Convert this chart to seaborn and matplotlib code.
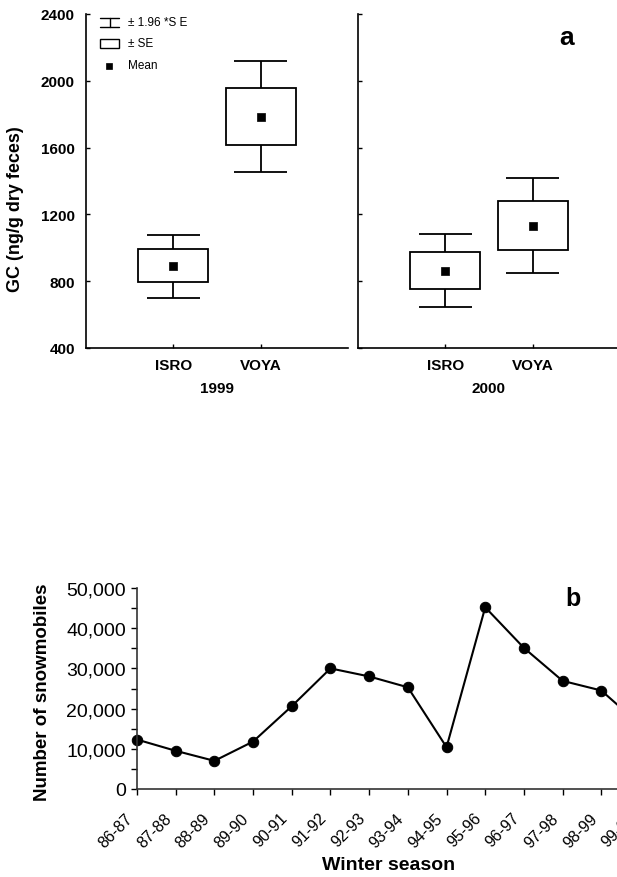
import numpy as np
import pandas as pd
import matplotlib
matplotlib.use("Agg")
import matplotlib.pyplot as plt
import seaborn as sns
from matplotlib.patches import Rectangle
from matplotlib.lines import Line2D
from matplotlib.ticker import MultipleLocator, FuncFormatter
from matplotlib.transforms import ScaledTranslation

# ---------------- data ----------------
years = ["1999", "2000"]
sites = ["ISRO", "VOYA"]
gc_mean_1999 = [889, 1784]
gc_mean_2000 = [861, 1130]
gc_se_low_1999 = [795, 1616]
gc_se_high_1999 = [990, 1957]
gc_se_low_2000 = [753, 988]
gc_se_high_2000 = [976, 1283]
gc_ci_low_1999 = [699, 1455]
gc_ci_high_1999 = [1078, 2121]
gc_ci_low_2000 = [647, 851]
gc_ci_high_2000 = [1084, 1419]
gc_yticks = [400, 800, 1200, 1600, 2000, 2400]

seasons = ["86-87", "87-88", "88-89", "89-90", "90-91", "91-92", "92-93",
           "93-94", "94-95", "95-96", "96-97", "97-98", "98-99", "99-00"]
snowmobiles = [12300, 9500, 7000, 11800, 20600, 30000, 28000,
               25300, 10400, 45200, 35100, 26900, 24500, 16000]

# ---------------- style ----------------
sns.set_theme(style="ticks")
plt.rcParams['font.family'] = ['Liberation Sans', 'DejaVu Sans']
plt.rcParams['axes.linewidth'] = 1.2
for k in ["text.color", "axes.labelcolor", "xtick.color", "ytick.color", "axes.edgecolor"]:
    plt.rcParams[k] = "black"

W, H = 617, 878
fig = plt.figure(figsize=(W / 100, H / 100), dpi=100)
fig.patch.set_facecolor("white")

def ax_rect(x0, y0, x1, y1):
    return [x0 / W, 1 - y1 / H, (x1 - x0) / W, (y1 - y0) / H]

ax1 = fig.add_axes(ax_rect(86, 15, 348, 349))
ax2 = fig.add_axes(ax_rect(358, 15, 620, 349))

panels = [
    (ax1, "1999", gc_mean_1999, gc_se_low_1999, gc_se_high_1999, gc_ci_low_1999, gc_ci_high_1999),
    (ax2, "2000", gc_mean_2000, gc_se_low_2000, gc_se_high_2000, gc_ci_low_2000, gc_ci_high_2000),
]
pos = np.arange(len(sites))
for ax, yr, mean, sel, seh, cil, cih in panels:
    ax.set_facecolor("white")
    sel = np.array(sel); seh = np.array(seh)
    ax.bar(pos, seh - sel, bottom=sel, width=0.8, facecolor="white",
           edgecolor="black", linewidth=1.3, zorder=2)
    ax.vlines(pos, seh, cih, color="black", linewidth=1.3, zorder=1)
    ax.vlines(pos, cil, sel, color="black", linewidth=1.3, zorder=1)
    ax.hlines(cih, pos - 0.3, pos + 0.3, color="black", linewidth=1.3)
    ax.hlines(cil, pos - 0.3, pos + 0.3, color="black", linewidth=1.3)
    df = pd.DataFrame({"pos": pos, "mean": mean})
    sns.scatterplot(data=df, x="pos", y="mean", marker="s", s=38,
                    color="black", edgecolor="black", ax=ax, zorder=3)
    ax.set_xlim(-1, 2)
    ax.set_ylim(400, 2400)
    ax.set_xticks(pos)
    ax.set_xticklabels(sites, fontsize=11, fontweight="bold")
    ax.set_yticks(gc_yticks)
    ax.set_xlabel(yr, fontsize=11, fontweight="bold", labelpad=7)
    ax.set_ylabel("")
    ax.tick_params(axis="x", direction="in", length=3, width=1, pad=7)
    ax.tick_params(axis="y", direction="in", length=3, width=1, pad=8)
    for s in ["top", "right"]:
        ax.spines[s].set_visible(False)

ax1.set_yticklabels([str(v) for v in gc_yticks], fontsize=11, fontweight="bold")
ax2.set_yticklabels([])

fig.text(16 / W, 1 - 209 / H, "GC (ng/g dry feces)", rotation=90,
         ha="center", va="center", fontsize=13, fontweight="bold")
fig.text(567 / W, 1 - 38 / H, "a", ha="center", va="center",
         fontsize=19, fontweight="bold")

# legend (drawn in left panel axes fraction)
def fx(px):
    return (px - 86) / 262
def fy(py):
    return (349 - py) / 334
tr = ax1.transAxes
lw = 1.0
ax1.add_line(Line2D([fx(100), fx(119)], [fy(18.5), fy(18.5)], transform=tr, color="black", lw=lw))
ax1.add_line(Line2D([fx(100), fx(119)], [fy(27.5), fy(27.5)], transform=tr, color="black", lw=lw))
ax1.add_line(Line2D([fx(109.5), fx(109.5)], [fy(18.5), fy(27.5)], transform=tr, color="black", lw=lw))
ax1.add_patch(Rectangle((fx(99.5), fy(49)), fx(119) - fx(99.5), fy(40) - fy(49),
                        transform=tr, facecolor="white", edgecolor="black", lw=lw))
ax1.add_patch(Rectangle((fx(106), fy(70)), fx(112) - fx(106), fy(64) - fy(70),
                        transform=tr, facecolor="black", edgecolor="black", lw=0.5))
for ty, t in [(23, "± 1.96 *S E"), (44, "± SE"), (66, "Mean")]:
    ax1.text(fx(128), fy(ty), t, transform=tr, ha="left", va="center",
             fontsize=8.5, family=["Liberation Sans Narrow", "Liberation Sans", "DejaVu Sans"])

# ---------------- bottom chart ----------------
axb = fig.add_axes(ax_rect(137, 589, 640, 790))
axb.set_facecolor("white")
xpos = np.arange(len(seasons))
dfb = pd.DataFrame({"x": xpos, "n": snowmobiles})
sns.lineplot(data=dfb, x="x", y="n", color="black", linewidth=1.5, marker="o",
             markersize=7.5, markeredgecolor="black", ax=axb, clip_on=False)
axb.set_xlim(0, len(seasons) - 1)
axb.set_ylim(0, 50000)
axb.set_xticks(xpos)
axb.yaxis.set_major_locator(MultipleLocator(10000))
axb.yaxis.set_minor_locator(MultipleLocator(5000))
axb.yaxis.set_major_formatter(FuncFormatter(lambda v, p: f"{int(v):,}"))
axb.tick_params(axis="y", which="both", direction="out", length=4, width=1,
                labelsize=14, pad=4)
axb.tick_params(axis="x", direction="out", length=4, width=1, pad=4)
axb.set_xticklabels(seasons, rotation=45, ha="right", rotation_mode="anchor",
                    fontsize=11.5)
off = ScaledTranslation(-12 / 100, -10 / 100, fig.dpi_scale_trans)
for tk in axb.xaxis.get_major_ticks():
    tk.label1.set_transform(tk.label1.get_transform() + off)
axb.set_xlabel("Winter season", fontsize=14, fontweight="bold")
axb.xaxis.set_label_coords((389 - 137) / 503, (790 - 857) / 201)
axb.set_ylabel("")
for s in ["top", "right"]:
    axb.spines[s].set_visible(False)
for s in ["left", "bottom"]:
    axb.spines[s].set_color("#333333")

fig.text(43 / W, 1 - 692 / H, "Number of snowmobiles", rotation=90,
         ha="center", va="center", fontsize=13.5, fontweight="bold")
fig.text(573 / W, 1 - 599 / H, "b", ha="center", va="center",
         fontsize=18, fontweight="bold")

fig.savefig("out.png", dpi=100, facecolor="white")
